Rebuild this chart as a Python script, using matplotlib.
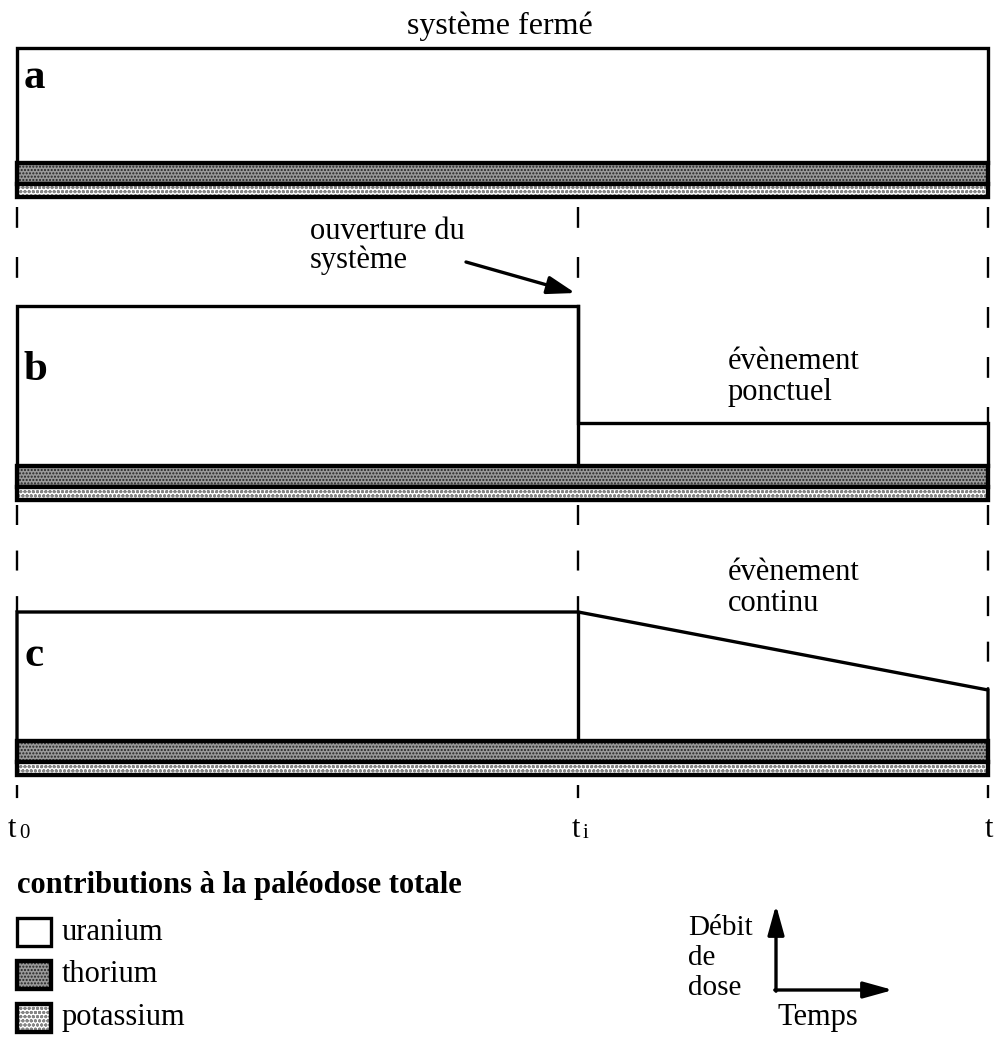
import matplotlib
matplotlib.use("Agg")
import matplotlib.pyplot as plt
from matplotlib.patches import Rectangle
import numpy as np

plt.rcParams['font.family'] = ['Liberation Serif', 'DejaVu Serif']
plt.rcParams['lines.scale_dashes'] = False

# ---- data ----
times = [0.0, 0.578, 1.0]                 # t0, ti, t (normalised time)
time_labels = ['t', 't', 't']
time_subs = ['0', 'i', '']
panel_letters = ['a', 'b', 'c']
thorium = 2.1                              # dose-rate contribution (arb. units)
potassium = 1.3
uranium_a_t = [0.0, 1.0]
uranium_a = [11.5, 11.5]
uranium_b_t = [0.0, 0.578, 0.578, 1.0]
uranium_b = [16.0, 16.0, 4.3, 4.3]
uranium_c_t = [0.0, 0.578, 0.578, 1.0]
uranium_c = [12.9, 12.9, 12.9, 5.1]
legend_labels = ['uranium', 'thorium', 'potassium']

# ---- layout (pixel frame) ----
W, H = 994, 1037
fig = plt.figure(figsize=(W / 100, H / 100), dpi=100)
ax = fig.add_axes([0, 0, 1, 1])
ax.set_xlim(0, W)
ax.set_ylim(H, 0)
ax.axis('off')

X0, X1 = 17, 988
SCALE = 10.0
bases = [197, 500, 775]
letter_off = [30, 64, 44]
LW = 2.4
FS = 22

def X(t):
    return X0 + np.asarray(t) * (X1 - X0)

def Y(base, d):
    return base - np.asarray(d) * SCALE

TH_FC, TH_HC = '#9a9a9a', '#222222'
K_FC, K_HC = '#ffffff', '#858585'

def pattern_rect(x, y, w, h, fc, hc, hatch, lw):
    ax.add_patch(Rectangle((x, y), w, h, facecolor=fc, edgecolor=hc, hatch=hatch, lw=0))
    ax.add_patch(Rectangle((x, y), w, h, fill=False, edgecolor='black', lw=lw))

def bands(base, x0, x1):
    ytop_k = Y(base, potassium)
    ytop_th = Y(base, potassium + thorium)
    pattern_rect(x0, ytop_th, x1 - x0, ytop_k - ytop_th, TH_FC, TH_HC, '.....', LW * 1.3)
    pattern_rect(x0, ytop_k, x1 - x0, base - ytop_k, K_FC, K_HC, 'oooo', LW * 1.3)

uranium_sets = [(uranium_a_t, uranium_a), (uranium_b_t, uranium_b), (uranium_c_t, uranium_c)]
for i, base in enumerate(bases):
    bands(base, X0, X1)
    tt, uu = uranium_sets[i]
    band_top = potassium + thorium
    xs = X(tt)
    ys = Y(base, band_top + np.asarray(uu))
    yb = Y(base, band_top)
    poly_x = np.concatenate([[xs[0]], xs, [xs[-1]]])
    poly_y = np.concatenate([[yb], ys, [yb]])
    ax.plot(poly_x, poly_y, color='black', lw=LW, solid_joinstyle='miter')
    if len(tt) > 2:
        ax.plot([xs[1], xs[1]], [yb, min(ys[1], ys[2])], color='black', lw=LW)
    ax.text(X0 + 7, ys[0] + letter_off[i], panel_letters[i],
            fontsize=31, fontweight='bold', va='center', ha='left')

def top_at(i, k):
    tt, uu = uranium_sets[i]
    base = bases[i]
    t = times[k]
    idx = [j for j, v in enumerate(tt) if abs(v - t) < 1e-9]
    val = max(uu[j] for j in idx)
    if k == 2:
        val = uu[-1]
    return Y(base, potassium + thorium + val)

# dashed guide lines between panels (patterns in points)
dash_ab = (28.8, (15, 21))
dash_bc = (29.2, (14.4, 18.4))
dash_end = (0, (0.01, 7.2, 9.4, 30))
for k, t in enumerate(times):
    x = X(t)
    ax.plot([x, x], [bases[0], top_at(1, k)], color='black', lw=1.7,
            linestyle=dash_ab, dash_capstyle='butt')
    ax.plot([x, x], [bases[1], top_at(2, k)], color='black', lw=1.7,
            linestyle=dash_bc, dash_capstyle='butt')
    ax.plot([x, x], [bases[2], bases[2] + 24], color='black', lw=1.7,
            linestyle=dash_end, dash_capstyle='butt')

# time labels
t_dx = [-9, -6, -3]
sub_dx = [11, 10, 0]
for k, t in enumerate(times):
    x = X(t) + t_dx[k]
    ax.text(x, 837, time_labels[k], fontsize=FS, ha='left', va='baseline')
    if time_subs[k]:
        ax.text(x + sub_dx[k], 838, time_subs[k], fontsize=15, ha='left', va='baseline')

# annotations
ax.text(500, 26, 'système fermé', fontsize=23, ha='center', va='center')
ax.text(310, 246, 'ouverture du\nsystème', fontsize=FS, ha='left', va='center',
        linespacing=1.0)
ax.annotate('', xy=(X(times[1]) - 3, 293), xytext=(466, 262),
            arrowprops=dict(arrowstyle='-|>,head_length=1.7,head_width=0.55',
                            color='black', lw=2.4, shrinkA=0, shrinkB=0))
ax.text(728, 377, 'évènement\nponctuel', fontsize=FS, ha='left', va='center',
        linespacing=1.12)
ax.text(728, 588, 'évènement\ncontinu', fontsize=FS, ha='left', va='center',
        linespacing=1.08)

# legend
ax.text(17, 885, 'contributions à la paléodose totale', fontsize=FS,
        fontweight='bold', ha='left', va='center')
leg_y = [932, 975, 1018]
for j, lab in enumerate(legend_labels):
    y = leg_y[j]
    if j == 0:
        ax.add_patch(Rectangle((17, y - 14), 34, 28, facecolor='white',
                               edgecolor='black', lw=LW))
    elif j == 1:
        pattern_rect(17, y - 14, 34, 28, TH_FC, TH_HC, '.....', LW * 1.3)
    else:
        pattern_rect(17, y - 14, 34, 28, K_FC, K_HC, 'oooo', LW * 1.3)
    ax.text(62, y, lab, fontsize=FS, ha='left', va='center')

# axes pictogram
ox, oy = 776, 990
ax.annotate('', xy=(ox, 905), xytext=(ox, oy + 1.2),
            arrowprops=dict(arrowstyle='-|>,head_length=1.8,head_width=0.5',
                            color='black', lw=2.4, shrinkA=0, shrinkB=0))
ax.annotate('', xy=(893, oy), xytext=(ox - 1.2, oy),
            arrowprops=dict(arrowstyle='-|>,head_length=1.8,head_width=0.5',
                            color='black', lw=2.4, shrinkA=0, shrinkB=0))
ax.text(688, 958, 'Débit\nde\ndose', fontsize=21, ha='left', va='center',
        linespacing=1.22)
ax.text(818, 1018, 'Temps', fontsize=FS, ha='center', va='center')

fig.savefig('out.png', dpi=100)
